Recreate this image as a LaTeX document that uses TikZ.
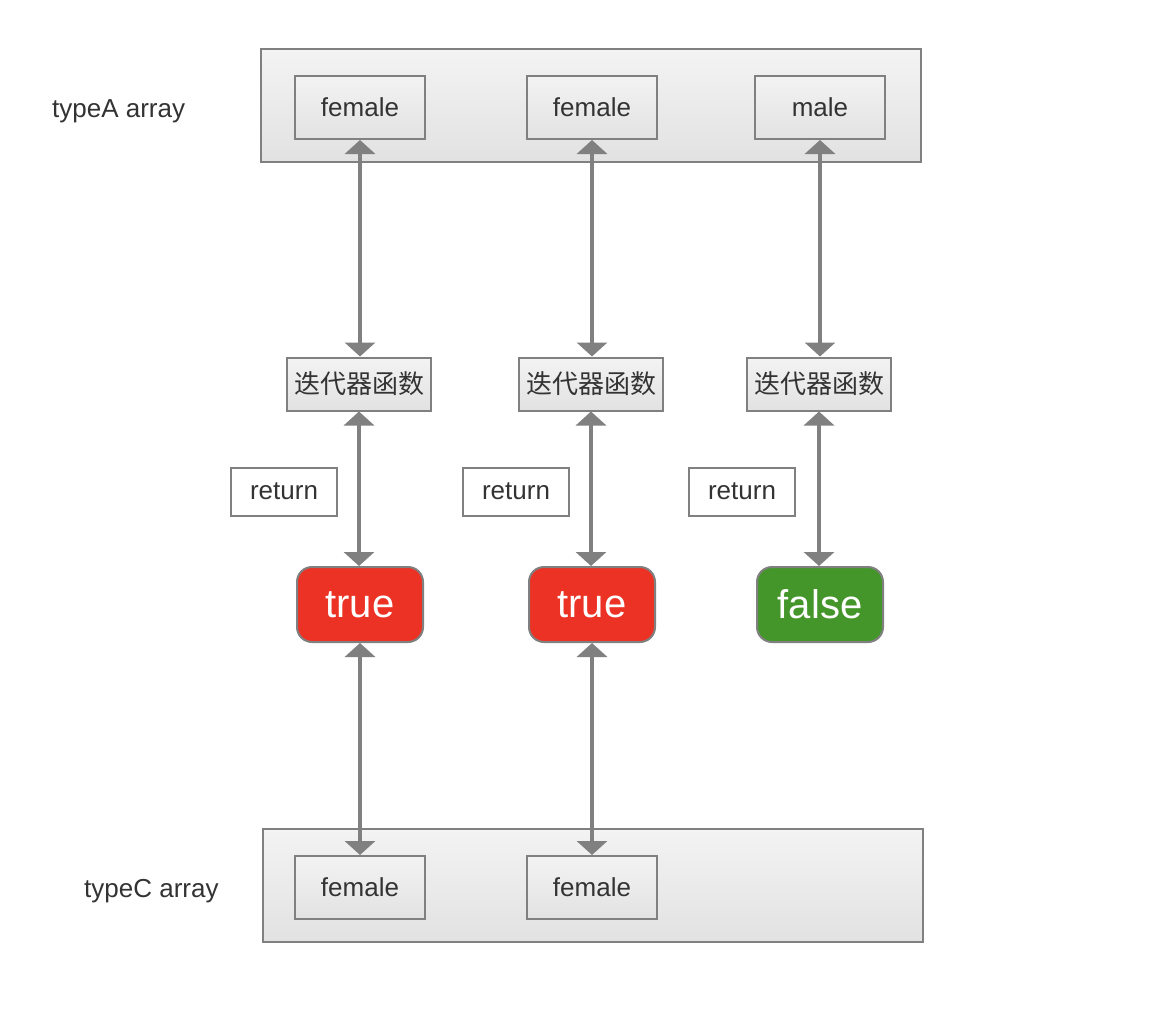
\documentclass[tikz,border=0pt]{standalone}
\usepackage{fontspec}
\setmainfont{Liberation Sans}
\newfontfamily\cjk{Noto Sans CJK SC}
\usetikzlibrary{arrows.meta}
\definecolor{bordergray}{RGB}{128,128,128}
\definecolor{txt}{RGB}{51,51,51}
\definecolor{gtop}{RGB}{243,243,243}
\definecolor{gbot}{RGB}{226,226,226}
\definecolor{tred}{RGB}{236,50,36}
\definecolor{fgreen}{RGB}{68,150,42}
\tikzset{
  base/.style={draw=bordergray, line width=2pt, inner sep=0pt, text=txt, font=\fontsize{26}{30}\selectfont},
  container/.style={base, top color=gtop, bottom color=gbot, minimum width=660pt, minimum height=113pt},
  item/.style={base, top color=gtop, bottom color=gbot, minimum width=130pt, minimum height=63pt},
  iter/.style={base, top color=gtop, bottom color=gbot, minimum width=144pt, minimum height=53pt, font=\cjk\fontsize{26}{30}\selectfont},
  retbox/.style={base, fill=white, minimum width=106pt, minimum height=48pt},
  result/.style={draw=bordergray, line width=2pt, rounded corners=15pt, minimum width=126pt, minimum height=75pt, inner sep=0pt, text=white, font=\fontsize{40}{44}\selectfont},
  lbl/.style={anchor=west, text=txt, inner sep=0pt, font=\fontsize{26}{30}\selectfont},
  arr/.style={draw=bordergray, line width=4pt, {Triangle[width=30pt,length=14pt]}-{Triangle[width=30pt,length=14pt]}}
}
\begin{document}
\begin{tikzpicture}[x=1pt,y=-1pt]
\useasboundingbox (0,0) rectangle (1166,1030);
% containers
\node[container] (A) at (591,105.5) {};
\node[container] (C) at (593,885.5) {};
\node[lbl] (la) at (52,111) {typeA array};
\node[lbl] (lc) at (84,891) {typeC array};
% top items
\node[item] (a1) at (360,107.5) {female};
\node[item] (a2) at (592,107.5) {female};
\node[item] (a3) at (820,107.5) {male};
% iterators
\node[iter] (i1) at (359,384) {迭代器函数};
\node[iter] (i2) at (591,384) {迭代器函数};
\node[iter] (i3) at (819,384) {迭代器函数};
% return labels
\node[retbox] (r1) at (284,491.5) {return};
\node[retbox] (r2) at (516,491.5) {return};
\node[retbox] (r3) at (742,491.5) {return};
% results
\node[result, fill=tred] (t1) at (360,604.5) {true};
\node[result, fill=tred] (t2) at (592,604.5) {true};
\node[result, fill=fgreen] (t3) at (820,604.5) {false};
% bottom items
\node[item] (c1) at (360,887.5) {female};
\node[item] (c2) at (592,887.5) {female};
% arrows
\draw[arr] (a1.south) -- (a1.south |- i1.north);
\draw[arr] (a2.south) -- (a2.south |- i2.north);
\draw[arr] (a3.south) -- (a3.south |- i3.north);
\draw[arr] (i1.south) -- (i1.south |- t1.north);
\draw[arr] (i2.south) -- (i2.south |- t2.north);
\draw[arr] (i3.south) -- (i3.south |- t3.north);
\draw[arr] (t1.south) -- (t1.south |- c1.north);
\draw[arr] (t2.south) -- (t2.south |- c2.north);
\end{tikzpicture}
\end{document}
